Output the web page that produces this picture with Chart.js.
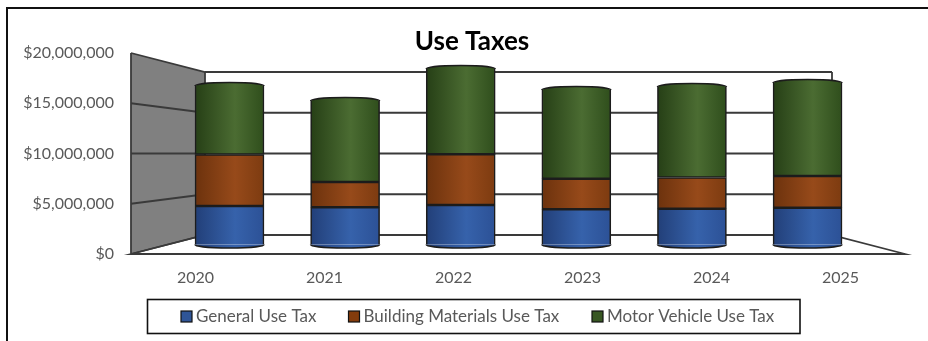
<!DOCTYPE html>
<html>
<head>
<meta charset="utf-8">
<title>Use Taxes</title>
<script src="https://cdn.jsdelivr.net/npm/chart.js@4/dist/chart.umd.min.js"></script>
<style>
    html, body { margin: 0; padding: 0; background: #fff; }
    canvas { display: block; }
</style>
</head>
<body>
<canvas id="useTaxChart" width="928" height="341"></canvas>
<script>
const years = ['2020', '2021', '2022', '2023', '2024', '2025'];
const generalUseTax = [4230000, 4090000, 4340000, 3870000, 3930000, 4040000];
const buildingMaterialsUseTax = [5660000, 2780000, 5570000, 3360000, 3430000, 3490000];
const motorVehicleUseTax = [7530000, 8900000, 9380000, 9750000, 9950000, 10220000];

const TEXT_COLOR = '#595959';
const LINE_COLOR = '#3a3a3a';
const FONT = 'Lato, sans-serif';
const BAR_WIDTH = 69;

// left, highlight and right tones of each cylinder
const BLUE_TONES = ['#223f78', '#3662ab', '#2c5196'];
const BROWN_TONES = ['#6c320d', '#974a1a', '#7d3b10'];
const GREEN_TONES = ['#263f16', '#4b6c32', '#2f4e1c'];

// the back wall sits behind the front axis: inset horizontally, squeezed vertically
const BACK_LEFT = 205;
const BACK_RIGHT = 832;
const BACK_BOTTOM = 235;
const BACK_TOP = 72;
const CAP_RY = 3.5;

function backY(area, frontY) {
    const ratio = (BACK_BOTTOM - BACK_TOP) / (area.bottom - area.top);
    return BACK_BOTTOM + (frontY - area.bottom) * ratio;
}

function cylinderFill(ctx, left, right, tones) {
    const g = ctx.createLinearGradient(left, 0, right, 0);
    g.addColorStop(0, tones[0]);
    g.addColorStop(0.58, tones[1]);
    g.addColorStop(1, tones[2]);
    return g;
}

function barFill(tones) {
    return (c) => {
        if (c.type !== 'data') return tones[1];
        const x = c.chart.scales.depthX.getPixelForValue(Number(years[c.dataIndex]));
        // scales have no pixel range until the first layout has run
        if (!Number.isFinite(x)) return tones[1];
        return cylinderFill(c.chart.ctx, x - BAR_WIDTH / 2, x + BAR_WIDTH / 2, tones);
    };
}

const wallPlugin = {
    id: 'wall',
    beforeDatasetsDraw(chart) {
        const { ctx, chartArea: area, scales } = chart;
        ctx.save();

        // left wall
        ctx.beginPath();
        ctx.moveTo(area.left, area.top);
        ctx.lineTo(BACK_LEFT, BACK_TOP);
        ctx.lineTo(BACK_LEFT, BACK_BOTTOM);
        ctx.lineTo(area.left, area.bottom);
        ctx.closePath();
        ctx.fillStyle = '#808080';
        ctx.fill();

        ctx.strokeStyle = LINE_COLOR;
        ctx.lineWidth = 1.8;

        // gridlines run along the wall and then across the back
        scales.y.ticks.forEach(t => {
            const fy = scales.y.getPixelForValue(t.value);
            const by = backY(area, fy);
            ctx.beginPath();
            ctx.moveTo(area.left, fy);
            ctx.lineTo(BACK_LEFT, by);
            ctx.lineTo(BACK_RIGHT, by);
            ctx.stroke();
        });

        ctx.beginPath();
        ctx.moveTo(area.left, area.top);
        ctx.lineTo(area.left, area.bottom);
        ctx.moveTo(BACK_LEFT, BACK_TOP);
        ctx.lineTo(BACK_LEFT, BACK_BOTTOM);
        ctx.moveTo(BACK_RIGHT, BACK_TOP);
        ctx.lineTo(BACK_RIGHT, BACK_BOTTOM);
        ctx.lineTo(area.right, area.bottom);
        ctx.lineTo(area.left, area.bottom);
        ctx.lineTo(BACK_LEFT, BACK_BOTTOM);
        ctx.stroke();
        ctx.restore();
    },
    afterDatasetsDraw(chart) {
        const { ctx } = chart;
        const count = chart.data.datasets.length;

        const dome = (x, y, half, tones, bottom) => {
            ctx.beginPath();
            ctx.ellipse(x, y, half, CAP_RY, 0, Math.PI, 0, bottom);
            ctx.closePath();
            ctx.fillStyle = cylinderFill(ctx, x - half, x + half, tones);
            ctx.fill();
            ctx.beginPath();
            ctx.ellipse(x, y, half, CAP_RY, 0, Math.PI, 0, bottom);
            ctx.strokeStyle = '#1c1c1c';
            ctx.lineWidth = 1.6;
            ctx.stroke();
        };

        ctx.save();
        chart.getDatasetMeta(0).data.forEach(bar => {
            dome(bar.x, bar.base, bar.width / 2, BLUE_TONES, true);
        });
        chart.getDatasetMeta(count - 1).data.forEach(bar => {
            dome(bar.x, bar.y, bar.width / 2, GREEN_TONES, false);
        });
        ctx.restore();
    },
    afterDraw(chart) {
        const { ctx } = chart;
        ctx.save();

        // outer frame, open on the right and at the bottom
        ctx.strokeStyle = '#111';
        ctx.lineWidth = 2;
        ctx.beginPath();
        ctx.moveTo(7, 341);
        ctx.lineTo(7, 8);
        ctx.lineTo(928, 8);
        ctx.stroke();

        // title sits off-centre over the plot
        ctx.fillStyle = '#000';
        ctx.font = 'bold 26px ' + FONT;
        ctx.textAlign = 'center';
        ctx.textBaseline = 'middle';
        ctx.fillText('Use Taxes', 472, 42);

        // legend
        ctx.lineWidth = 1.6;
        ctx.strokeStyle = '#111';
        ctx.strokeRect(147.5, 299.5, 652.5, 34);

        const swatchX = [181, 348.5, 592];
        ctx.font = '17px ' + FONT;
        ctx.textAlign = 'left';
        chart.data.datasets.forEach((ds, i) => {
            ctx.fillStyle = ds.legendColor;
            ctx.fillRect(swatchX[i], 311, 11, 11);
            ctx.lineWidth = 1.2;
            ctx.strokeStyle = '#111';
            ctx.strokeRect(swatchX[i], 311, 11, 11);
            ctx.fillStyle = TEXT_COLOR;
            ctx.fillText(ds.label, swatchX[i] + 15, 317);
        });
        ctx.restore();
    }
};

new Chart(document.getElementById('useTaxChart'), {
    type: 'bar',
    plugins: [wallPlugin],
    data: {
        labels: years,
        datasets: [
            { label: 'General Use Tax', data: generalUseTax, tones: BLUE_TONES, legendColor: '#2f5597', borderSkipped: 'bottom' },
            { label: 'Building Materials Use Tax', data: buildingMaterialsUseTax, tones: BROWN_TONES, legendColor: '#843c0c', borderSkipped: false },
            { label: 'Motor Vehicle Use Tax', data: motorVehicleUseTax, tones: GREEN_TONES, legendColor: '#385723', borderSkipped: 'top' }
        ].map(ds => ({
            ...ds,
            xAxisID: 'depthX',
            yAxisID: 'depthY',
            barThickness: BAR_WIDTH,
            backgroundColor: barFill(ds.tones),
            borderColor: '#1c1c1c',
            borderWidth: 1.6
        }))
    },
    options: {
        responsive: false,
        animation: false,
        layout: { padding: { left: 0, right: 23, top: 53, bottom: 0 } },
        plugins: {
            legend: { display: false },
            tooltip: { enabled: false }
        },
        scales: {
            // visible axes describe the front edge of the floor
            x: {
                type: 'category',
                position: 'bottom',
                grid: { display: false },
                border: { display: false },
                ticks: { color: TEXT_COLOR, font: { family: FONT, size: 16 }, padding: 6, maxRotation: 0 },
                afterFit: s => { s.height = 87; }
            },
            y: {
                type: 'linear',
                position: 'left',
                min: 0,
                max: 20000000,
                grid: { display: false },
                border: { display: false },
                ticks: {
                    stepSize: 5000000,
                    color: TEXT_COLOR,
                    font: { family: FONT, size: 16 },
                    padding: 9,
                    callback: v => '$' + v.toLocaleString('en-US')
                },
                afterFit: s => { s.width = 131; }
            },
            // bars stand halfway back, so they get their own hidden scales
            depthX: {
                type: 'linear',
                axis: 'x',
                display: false,
                offset: false,
                stacked: true,
                min: 2019.148,
                max: 2025.843
            },
            depthY: {
                type: 'linear',
                axis: 'y',
                display: false,
                stacked: true,
                min: -1044000,
                max: 21044000
            }
        }
    }
});
</script>
</body>
</html>
